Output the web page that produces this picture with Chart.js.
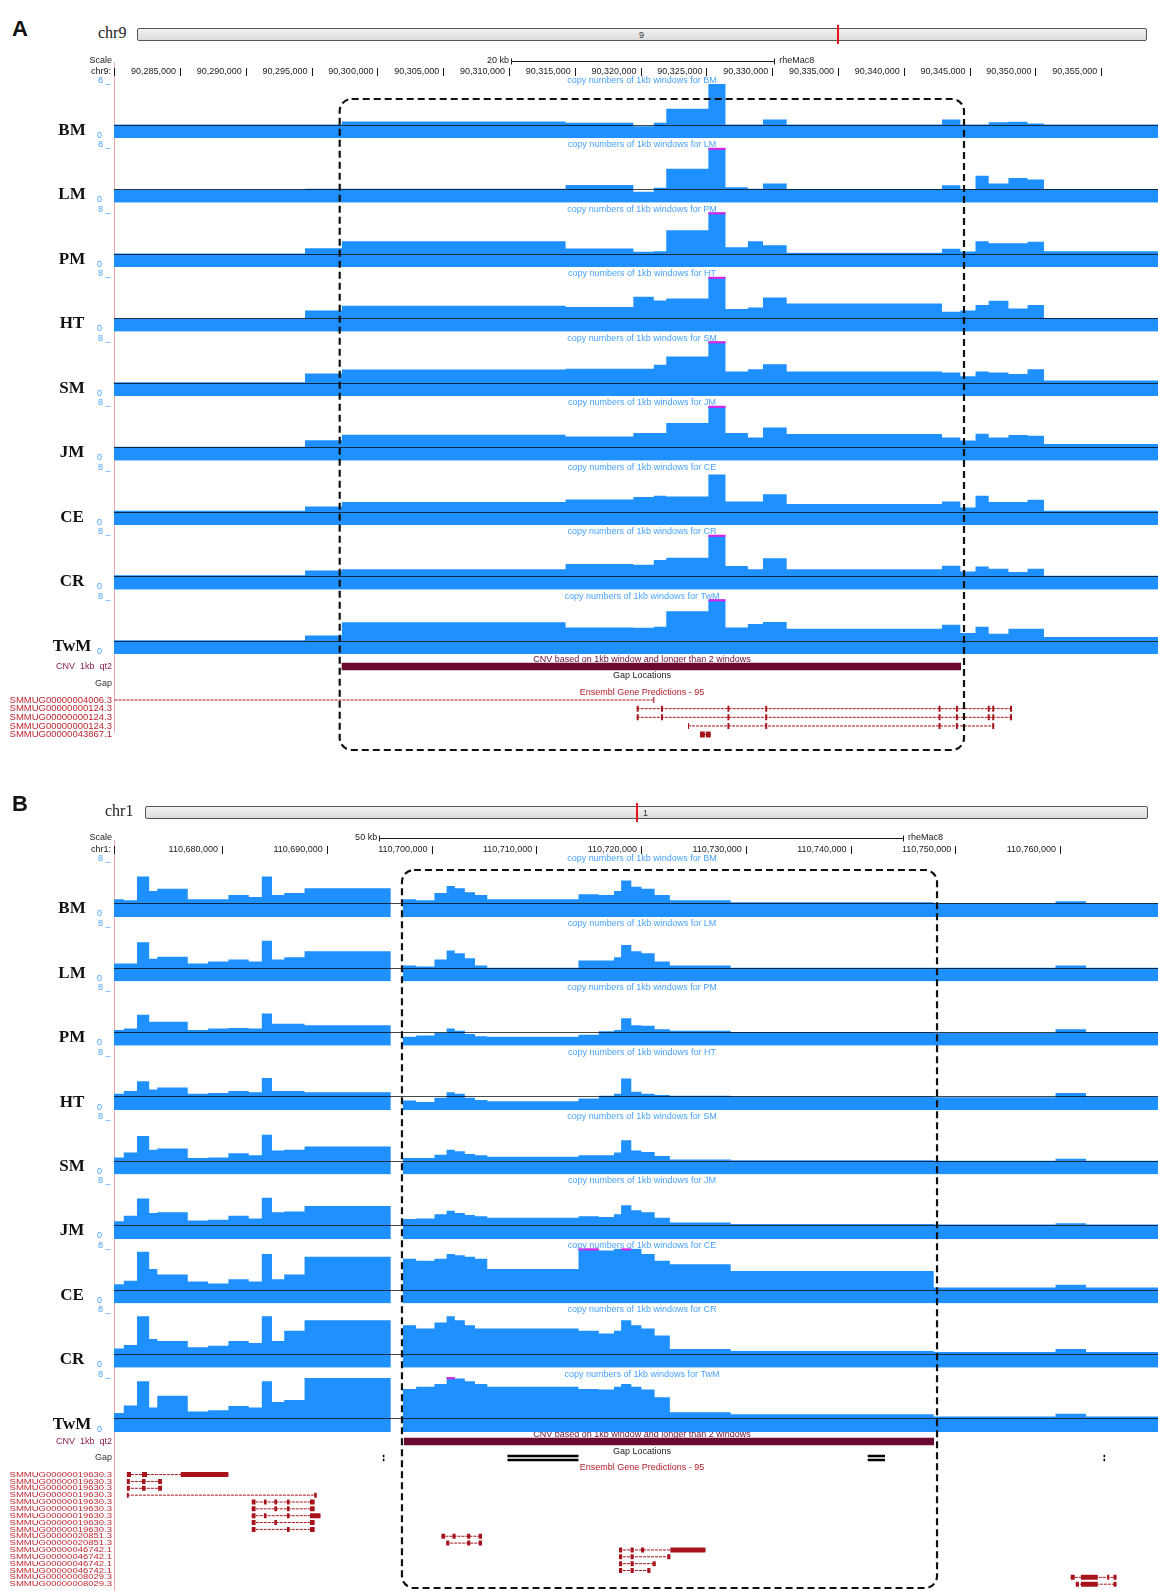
<!DOCTYPE html>
<html>
<head>
<meta charset="utf-8">
<script src="https://cdn.jsdelivr.net/npm/chart.js@4.4.1/dist/chart.umd.min.js"></script>
<style>
  html, body { margin: 0; padding: 0; background: #fff; }
  #page { position: relative; width: 1158px; height: 1591px; overflow: hidden; background: #fff; }
  #page canvas { position: absolute; }
  .txt { position: absolute; white-space: nowrap; line-height: 1; }
  .ideo { position: absolute; box-sizing: border-box; border: 1px solid #555; border-radius: 2px;
          background: linear-gradient(#f2f2f2, #dcdcdc); }
</style>
</head>
<body>
<div id="page"></div>
<script>
// ---------------- data: panel A, chr9 (rheMac8) ----------------
const TRACK_NAMES = ['BM', 'LM', 'PM', 'HT', 'SM', 'JM', 'CE', 'CR', 'TwM'];

const A_WINDOW = [90279985, 90359316];
const A_TICKS = [90285000, 90290000, 90295000, 90300000, 90305000, 90310000, 90315000,
                 90320000, 90325000, 90330000, 90335000, 90340000, 90345000, 90350000, 90355000];
const A_SCALEBAR = [90310150, 90330150];
// start of each copy-number segment (bp)
const A_STARTS = [90279985, 90294500, 90297300, 90314300, 90319450, 90321000, 90321950, 90325150,
                  90326450, 90328150, 90329300, 90331100, 90342900, 90344300, 90345450, 90346450,
                  90347950, 90349400, 90350650];
const A_BM  = [2.0, 2.0, 2.45, 2.25, 1.75, 2.25, 4.3, 7.9, 2.0, 2.0, 2.74, 2.0, 2.74, 2.0, 2.0, 2.35, 2.4, 2.15, 2.0];
const A_LM  = [1.95, 2.05, 2.05, 2.6, 1.6, 2.2, 4.95, 8.6, 2.25, 2.05, 2.8, 2.0, 2.55, 2.0, 3.95, 2.8, 3.6, 3.4, 2.0];
const A_PM  = [2.0, 2.78, 3.8, 2.74, 2.25, 2.35, 5.4, 8.6, 2.9, 3.8, 3.2, 2.1, 2.7, 2.3, 3.8, 3.5, 3.5, 3.7, 2.35];
const A_HT  = [1.95, 3.1, 3.8, 3.6, 5.1, 4.55, 4.85, 8.6, 3.3, 3.55, 5.0, 4.1, 2.9, 3.1, 3.9, 4.5, 3.4, 3.9, 2.0];
const A_SM  = [2.05, 3.3, 3.9, 4.0, 4.0, 4.6, 5.8, 8.6, 3.6, 3.95, 4.65, 3.6, 3.45, 2.9, 3.6, 3.45, 3.25, 3.95, 2.3];
const A_JM  = [2.05, 3.0, 3.8, 3.55, 4.05, 4.05, 5.5, 8.6, 4.05, 3.4, 4.85, 3.9, 3.4, 2.95, 3.95, 3.4, 3.75, 3.65, 2.45];
const A_CE  = [2.1, 2.75, 3.4, 3.75, 4.1, 4.3, 4.2, 7.4, 3.45, 3.45, 4.5, 3.1, 3.45, 2.6, 4.3, 3.4, 3.4, 3.7, 2.1];
const A_CR  = [2.1, 2.8, 3.0, 3.75, 3.65, 4.35, 4.65, 8.6, 3.45, 3.0, 4.6, 3.0, 3.5, 2.65, 3.4, 3.05, 2.6, 3.05, 2.05];
const A_TWM = [2.05, 2.75, 4.65, 3.9, 3.85, 4.0, 6.25, 8.6, 3.9, 4.4, 4.7, 3.7, 4.3, 3.1, 4.0, 3.0, 3.7, 3.7, 2.5];
const A_SERIES = [A_BM, A_LM, A_PM, A_HT, A_SM, A_JM, A_CE, A_CR, A_TWM];

const A_CNV = [90297287, 90344347];
const A_GAPS = [];
const A_GENE_NAMES = ['SMMUG00000004006.3', 'SMMUG00000000124.3', 'SMMUG00000000124.3',
                      'SMMUG00000000124.3', 'SMMUG00000043867.1'];
const A_GENE_SPANS = [[90270000, 90321041], [90319703, 90348222], [90319703, 90348222],
                      [90323602, 90346870], [90324514, 90325327]];
const A_GENE_EXONS = [
  [[90320960, 90321041]],
  [[90319703, 90319853], [90321550, 90321700], [90326600, 90326750], [90329470, 90329620],
   [90342640, 90342790], [90343960, 90344110], [90346380, 90346530], [90346720, 90346870], [90348070, 90348222]],
  [[90319703, 90319853], [90321550, 90321700], [90326600, 90326750], [90329470, 90329620],
   [90342640, 90342790], [90343960, 90344110], [90346380, 90346530], [90346720, 90346870], [90348070, 90348222]],
  [[90323602, 90323680], [90326600, 90326750], [90329470, 90329620], [90342640, 90342790],
   [90343960, 90344110], [90346720, 90346870]],
  [[90324514, 90324880], [90324960, 90325327]]
];

// ---------------- data: panel B, chr1 (rheMac8) ----------------
const B_WINDOW = [110669690, 110769350];
const B_TICKS = [110680000, 110690000, 110700000, 110710000, 110720000, 110730000, 110740000, 110750000, 110760000];
const B_SCALEBAR = [110695000, 110745000];
const B_STARTS = [110669690, 110670625, 110671885, 110673050, 110673820, 110676730, 110678670, 110680610,
                  110682550, 110683800, 110684770, 110685940, 110687880, 110696100, 110697270, 110698530,
                  110700280, 110701440, 110702220, 110703180, 110704150, 110705320, 110714030, 110715970,
                  110717420, 110718100, 110719070, 110720040, 110721300, 110722750, 110728560, 110747940,
                  110759570, 110762480];
const B_BM  = [2.6, 2.45, 5.9, 3.8, 4.1, 2.6, 2.6, 3.2, 2.9, 5.9, 3.2, 3.5, 4.2, 0, 2.6, 2.45, 3.5, 4.5, 4.2, 3.6, 3.2, 2.6, 3.3, 3.2, 3.8, 5.3, 4.4, 4.1, 3.2, 2.45, 2.15, 2.0, 2.3, 2.0];
const B_LM  = [2.6, 2.6, 5.7, 3.3, 3.6, 2.6, 2.9, 3.2, 2.9, 5.9, 3.2, 3.5, 4.4, 0, 2.3, 2.15, 3.2, 4.5, 4.1, 3.35, 2.3, 2.0, 3.05, 3.05, 3.5, 5.3, 4.4, 4.1, 2.9, 2.3, 2.0, 2.0, 2.3, 2.0];
const B_PM  = [2.3, 2.5, 4.5, 3.5, 3.5, 2.3, 2.5, 2.6, 2.5, 4.7, 3.2, 3.2, 3.0, 0, 1.3, 1.5, 1.9, 2.5, 2.2, 1.7, 1.4, 1.3, 1.6, 2.1, 2.3, 4.0, 3.0, 2.9, 2.4, 2.2, 2.0, 1.9, 2.4, 2.0];
const B_HT  = [2.4, 2.8, 4.2, 3.0, 3.3, 2.4, 2.5, 2.8, 2.6, 4.7, 2.8, 2.8, 2.6, 0, 1.4, 1.2, 1.8, 2.6, 2.4, 1.8, 1.5, 1.3, 1.7, 2.1, 2.4, 4.6, 2.7, 2.4, 2.2, 2.1, 2.0, 1.9, 2.5, 2.0];
const B_SM  = [2.5, 3.2, 5.6, 3.6, 3.8, 2.4, 2.5, 3.1, 2.8, 5.8, 3.5, 3.6, 4.1, 0, 2.4, 2.4, 2.9, 3.6, 3.4, 3.0, 2.8, 2.6, 2.8, 2.8, 3.2, 5.0, 3.5, 3.3, 2.7, 2.2, 2.1, 2.0, 2.3, 2.0];
const B_JM  = [2.6, 3.4, 5.9, 3.8, 3.9, 2.7, 2.8, 3.4, 3.0, 6.0, 3.9, 4.0, 4.8, 0, 2.9, 3.0, 3.6, 4.1, 3.8, 3.5, 3.3, 3.1, 3.3, 3.2, 3.6, 4.9, 4.2, 3.9, 3.1, 2.4, 2.2, 2.1, 2.3, 2.1];
const B_CE  = [2.8, 3.3, 7.5, 5.0, 4.2, 3.2, 2.9, 3.5, 3.2, 7.2, 3.5, 4.2, 6.8, 0, 6.5, 6.2, 6.5, 7.2, 7.0, 6.8, 6.5, 5.0, 8.4, 7.7, 8.0, 8.4, 8.0, 7.2, 6.2, 5.7, 4.7, 2.3, 2.7, 2.3];
const B_CR  = [2.8, 3.3, 7.5, 4.2, 3.9, 3.0, 3.2, 3.9, 3.6, 7.5, 3.9, 5.4, 6.9, 0, 6.2, 5.7, 6.6, 7.5, 6.9, 6.2, 5.7, 5.7, 5.4, 5.0, 5.4, 6.9, 6.2, 5.7, 4.7, 2.75, 2.45, 2.3, 2.75, 2.3];
const B_TWM = [2.8, 3.9, 7.4, 3.6, 5.3, 3.0, 3.2, 3.8, 3.6, 7.4, 4.4, 4.7, 7.9, 0, 6.3, 6.6, 7.0, 8.4, 7.8, 7.4, 7.0, 6.6, 6.3, 6.2, 6.6, 7.0, 6.6, 6.2, 5.1, 2.9, 2.6, 2.3, 2.7, 2.3];
const B_SERIES = [B_BM, B_LM, B_PM, B_HT, B_SM, B_JM, B_CE, B_CR, B_TWM];

const B_CNV = [110697370, 110747970];
const B_GAPS = [[110695350, 110695500], [110707250, 110714030], [110741640, 110743290], [110764150, 110764300]];
const B_GENE_NAMES = ['SMMUG00000019630.3', 'SMMUG00000019630.3', 'SMMUG00000019630.3', 'SMMUG00000019630.3',
                      'SMMUG00000019630.3', 'SMMUG00000019630.3', 'SMMUG00000019630.3', 'SMMUG00000019630.3',
                      'SMMUG00000019630.3', 'SMMUG00000020851.3', 'SMMUG00000020851.3', 'SMMUG00000046742.1',
                      'SMMUG00000046742.1', 'SMMUG00000046742.1', 'SMMUG00000046742.1',
                      'SMMUG00000008029.3', 'SMMUG00000008029.3'];
const B_GENE_SPANS = [[110670920, 110680610], [110670920, 110674270], [110670920, 110674270], [110670920, 110689040],
                      [110682840, 110688840], [110682840, 110688840], [110682840, 110689400], [110682840, 110688840],
                      [110682840, 110688840], [110700950, 110704820], [110701400, 110704820], [110717900, 110726150],
                      [110717900, 110722800], [110717900, 110721400], [110717900, 110720900],
                      [110761020, 110765390], [110761500, 110765390]];
const B_GENE_EXONS = [
  [[110670920, 110671310], [110672360, 110672840], [110676060, 110680610]],
  [[110670920, 110671200], [110672360, 110672700], [110673900, 110674270]],
  [[110670920, 110671200], [110672360, 110672700], [110673900, 110674270]],
  [[110670920, 110671100], [110688800, 110689040]],
  [[110682840, 110683200], [110684000, 110684250], [110685000, 110685250], [110686200, 110686450], [110688400, 110688840]],
  [[110682840, 110683200], [110685000, 110685250], [110686200, 110686450], [110688400, 110688840]],
  [[110682840, 110683200], [110684000, 110684250], [110686200, 110686450], [110688400, 110689400]],
  [[110682840, 110683200], [110685000, 110685250], [110688400, 110688840]],
  [[110682840, 110683200], [110686200, 110686450], [110688400, 110688840]],
  [[110700950, 110701300], [110702000, 110702300], [110703400, 110703700], [110704500, 110704820]],
  [[110701400, 110701700], [110703400, 110703700], [110704500, 110704820]],
  [[110717900, 110718200], [110719000, 110719300], [110720000, 110720300], [110722800, 110726150]],
  [[110717900, 110718200], [110719000, 110719300], [110722500, 110722800]],
  [[110717900, 110718200], [110719000, 110719300], [110721100, 110721400]],
  [[110717900, 110718200], [110719000, 110719300], [110720600, 110720900]],
  [[110761020, 110761400], [110762000, 110763600], [110764500, 110764700], [110765100, 110765390]],
  [[110761500, 110761800], [110762000, 110763600], [110765100, 110765390]]
];

// ---------------- drawing ----------------
const BLUE = '#1e90ff';
const MAROON = '#6a0a33';
const GENE_RED = '#a8141c';
const SANS = '"Liberation Sans", Arial, sans-serif';
const SERIF = '"Liberation Serif", "Times New Roman", serif';
const page = document.getElementById('page');
const DATA_LEFT = 114;

function addCanvas(top, height) {
  const c = document.createElement('canvas');
  c.width = 1158; c.height = height;
  c.style.left = '0px'; c.style.top = top + 'px';
  c.style.width = '1158px'; c.style.height = height + 'px';
  page.appendChild(c);
  return c;
}
function addText(text, x, y, css) {
  const d = document.createElement('div');
  d.className = 'txt';
  d.textContent = text;
  d.style.left = x + 'px'; d.style.top = y + 'px';
  Object.assign(d.style, css || {});
  page.appendChild(d);
  return d;
}
function addBox(x, y, w, h, css) {
  const d = document.createElement('div');
  d.style.position = 'absolute';
  d.style.left = x + 'px'; d.style.top = y + 'px';
  d.style.width = w + 'px'; d.style.height = h + 'px';
  Object.assign(d.style, css || {});
  page.appendChild(d);
  return d;
}
const fmt = n => n.toLocaleString('en-US');

// copy-number track: reference line at 2, clipped windows flagged in magenta, labels
const trackDecor = {
  id: 'trackDecor',
  afterDatasetsDraw(chart, args, o) {
    const { ctx, chartArea: a, scales: { x, y } } = chart;
    ctx.save();
    const y2 = Math.round(y.getPixelForValue(2)) + 0.5;
    ctx.strokeStyle = 'rgba(0,0,0,0.72)';
    ctx.lineWidth = 1;
    ctx.beginPath(); ctx.moveTo(a.left, y2); ctx.lineTo(a.right, y2); ctx.stroke();
    const d = chart.data.datasets[0].data;
    ctx.fillStyle = '#e21ee6';
    for (let i = 0; i < d.length - 1; i++) {
      if (d[i].y > y.max) {
        const x0 = x.getPixelForValue(d[i].x), x1 = x.getPixelForValue(d[i + 1].x);
        ctx.fillRect(x0, a.top, x1 - x0, 2);
      }
    }
    ctx.textBaseline = 'middle';
    ctx.fillStyle = '#111';
    ctx.font = 'bold 17px ' + SERIF;
    ctx.textAlign = 'center';
    ctx.fillText(o.name, 72, a.bottom - 8);
    ctx.fillStyle = '#4aa3ff';
    ctx.font = '9px ' + SANS;
    ctx.textAlign = 'left';
    ctx.fillText('8 _', 98, a.top - 3);
    ctx.fillText('0', 97, a.bottom - 3);
    ctx.textAlign = 'center';
    ctx.fillText('copy numbers of 1kb windows for ' + o.name, 642, a.top - 3);
    ctx.restore();
  }
};

function makeTrack(name, starts, values, win, yBottom) {
  const top = Math.round(yBottom - 63);
  const c = addCanvas(top, 65);
  const pts = starts.map((s, i) => ({ x: s, y: values[i] }));
  pts.push({ x: win[1], y: values[values.length - 1] });
  new Chart(c, {
    type: 'line',
    data: { datasets: [{ data: pts, stepped: true, fill: 'origin', backgroundColor: BLUE,
                         borderColor: 'rgba(0,0,0,0)', borderWidth: 1, pointRadius: 0 }] },
    options: {
      responsive: false, animation: false, events: [],
      layout: { padding: { left: DATA_LEFT, right: 0, top: (yBottom - 55) - top, bottom: top + 65 - yBottom } },
      scales: {
        x: { type: 'linear', min: win[0], max: win[1], display: false },
        y: { min: 0, max: 8, display: false }
      },
      plugins: { legend: { display: false }, tooltip: { enabled: false }, trackDecor: { name } }
    },
    plugins: [trackDecor]
  });
}

// ruler row: "Scale" bar and coordinate ticks
const rulerDecor = {
  id: 'rulerDecor',
  afterDraw(chart, args, o) {
    const { ctx, scales: { x } } = chart;
    const off = chart.canvas.offsetTop;
    ctx.save();
    ctx.fillStyle = '#1a1a1a';
    ctx.strokeStyle = '#1a1a1a';
    ctx.lineWidth = 1;
    ctx.font = '9px ' + SANS;
    ctx.textBaseline = 'middle';
    ctx.textAlign = 'right';
    ctx.fillText('Scale', 112, o.barY - off);
    ctx.fillText(o.chrom + ':', 111, o.tickY - off);
    const tickAt = (px) => {
      ctx.beginPath(); ctx.moveTo(Math.round(px) + 0.5, o.tickY - off - 4);
      ctx.lineTo(Math.round(px) + 0.5, o.tickY - off + 4); ctx.stroke();
    };
    tickAt(DATA_LEFT);
    for (const t of o.ticks) {
      const px = x.getPixelForValue(t);
      tickAt(px);
      ctx.fillText(fmt(t), px - 4, o.tickY - off);
    }
    const p0 = x.getPixelForValue(o.bar[0]), p1 = x.getPixelForValue(o.bar[1]);
    const by = Math.round(o.barY - off) + 0.5;
    ctx.beginPath();
    ctx.moveTo(p0, by); ctx.lineTo(p1, by);
    ctx.moveTo(Math.round(p0) + 0.5, by - 3); ctx.lineTo(Math.round(p0) + 0.5, by + 3);
    ctx.moveTo(Math.round(p1) + 0.5, by - 3); ctx.lineTo(Math.round(p1) + 0.5, by + 3);
    ctx.stroke();
    ctx.fillText(o.barLabel, p0 - 2, by - 1);
    ctx.textAlign = 'left';
    ctx.fillText('rheMac8', p1 + 5, by - 1);
    ctx.restore();
  }
};

function makeRuler(win, ticks, bar, barLabel, chrom, top, barY, tickY) {
  const c = addCanvas(top, 28);
  return new Chart(c, {
    type: 'line',
    data: { datasets: [{ data: [] }] },
    options: {
      responsive: false, animation: false, events: [],
      layout: { padding: { left: DATA_LEFT, right: 0, top: 0, bottom: 0 } },
      scales: { x: { type: 'linear', min: win[0], max: win[1], display: false },
                y: { min: 0, max: 1, display: false } },
      plugins: { legend: { display: false }, tooltip: { enabled: false },
                 rulerDecor: { ticks, bar, barLabel, chrom, barY, tickY } }
    },
    plugins: [rulerDecor]
  });
}

// annotation tracks: CNV calls, assembly gaps, gene models
const annotDecor = {
  id: 'annotDecor',
  afterDraw(chart, args, o) {
    const { ctx, scales: { y } } = chart;
    ctx.save();
    ctx.textBaseline = 'middle';
    ctx.font = '9px ' + SANS;
    ctx.textAlign = 'center';
    ctx.fillStyle = MAROON;
    ctx.fillText('CNV based on 1kb window and longer than 2 windows', 642, y.getPixelForValue(o.cnvY - 6.5));
    ctx.fillStyle = '#222';
    ctx.fillText('Gap Locations', 642, y.getPixelForValue(o.gapTitleY));
    ctx.fillStyle = '#b3202a';
    ctx.fillText('Ensembl Gene Predictions - 95', 642, y.getPixelForValue(o.geneTitleY));
    ctx.textAlign = 'right';
    ctx.fillStyle = '#8c1f4f';
    ctx.fillText('CNV  1kb  qt2', 112, y.getPixelForValue(o.cnvY));
    ctx.fillStyle = '#333';
    ctx.fillText('Gap', 112, y.getPixelForValue(o.gapY));
    ctx.fillStyle = '#c0262e';
    ctx.font = '9.5px ' + SANS;
    o.geneNames.forEach((n, i) => {
      ctx.save();
      ctx.translate(112, y.getPixelForValue(o.geneY0 + i * o.geneStep));
      ctx.scale(1, o.geneSquash);
      ctx.fillText(n, 0, 0);
      ctx.restore();
    });
    ctx.restore();
  }
};

function makeAnnotation(win, cnv, gaps, names, spans, exons, top, height, L) {
  const c = addCanvas(top, height);
  const ds = [];
  ds.push({ data: [{ x: cnv[0], y: L.cnvY }, { x: cnv[1], y: L.cnvY }], borderColor: MAROON, borderWidth: 7.5 });
  gaps.forEach(g => {
    ds.push({ data: [{ x: g[0], y: L.gapY - 2 }, { x: g[1], y: L.gapY - 2 }], borderColor: '#000', borderWidth: 2.5 });
    ds.push({ data: [{ x: g[0], y: L.gapY + 2 }, { x: g[1], y: L.gapY + 2 }], borderColor: '#000', borderWidth: 2.5 });
  });
  spans.forEach((s, i) => {
    const ly = L.geneY0 + i * L.geneStep;
    ds.push({ data: [{ x: s[0], y: ly }, { x: s[1], y: ly }], borderColor: GENE_RED, borderWidth: 1, borderDash: [3, 1] });
    const pts = [];
    exons[i].forEach(e => {
      if (pts.length) pts.push({ x: e[0], y: null });
      pts.push({ x: e[0], y: ly }, { x: e[1], y: ly });
    });
    ds.push({ data: pts, borderColor: GENE_RED, borderWidth: L.exonH, spanGaps: false });
  });
  ds.forEach(d => { d.pointRadius = 0; d.borderCapStyle = 'butt'; d.fill = false; });
  return new Chart(c, {
    type: 'line',
    data: { datasets: ds },
    options: {
      responsive: false, animation: false, events: [],
      layout: { padding: { left: DATA_LEFT, right: 0, top: 0, bottom: 0 } },
      scales: { x: { type: 'linear', min: win[0], max: win[1], display: false },
                y: { type: 'linear', min: top, max: top + height, reverse: true, display: false } },
      plugins: { legend: { display: false }, tooltip: { enabled: false },
                 annotDecor: Object.assign({ geneNames: names }, L) }
    },
    plugins: [annotDecor]
  });
}

function roundedDashBox(x0, y0, x1, y1) {
  const ns = 'http://www.w3.org/2000/svg';
  const svg = document.createElementNS(ns, 'svg');
  svg.setAttribute('width', 1158); svg.setAttribute('height', 1591);
  svg.style.position = 'absolute'; svg.style.left = '0'; svg.style.top = '0';
  const r = document.createElementNS(ns, 'rect');
  r.setAttribute('x', x0); r.setAttribute('y', y0);
  r.setAttribute('width', x1 - x0); r.setAttribute('height', y1 - y0);
  r.setAttribute('rx', 12); r.setAttribute('fill', 'none');
  r.setAttribute('stroke', '#111'); r.setAttribute('stroke-width', 2.2);
  r.setAttribute('stroke-dasharray', '7 4');
  svg.appendChild(r);
  page.appendChild(svg);
}

function panel(cfg) {
  // panel letter, chromosome ideogram
  addText(cfg.letter, 12, cfg.letterY, { font: 'bold 22px ' + SANS, color: '#111' });
  addText(cfg.chrom, cfg.chromX, cfg.ideoY - 4, { font: '16px ' + SERIF, color: '#222' });
  addBox(cfg.ideoX0, cfg.ideoY, cfg.ideoX1 - cfg.ideoX0, 13, {}).className = 'ideo';
  addText(cfg.chromNum, cfg.numX, cfg.ideoY + 2, { font: '9px ' + SANS, color: '#333' });
  addBox(cfg.bandX, cfg.ideoY - 3, 2, 19, { background: '#e8141c' });
  // left border of the data area
  addBox(DATA_LEFT, cfg.lineTop, 1, cfg.lineBottom - cfg.lineTop, { background: '#f3aaaa' });

  const ruler = makeRuler(cfg.win, cfg.ticks, cfg.bar, cfg.barLabel, cfg.chromName,
                          cfg.rulerTop, cfg.barY, cfg.tickY);
  TRACK_NAMES.forEach((n, i) => makeTrack(n, cfg.starts, cfg.series[i], cfg.win, cfg.bottom0 + i * cfg.step));
  makeAnnotation(cfg.win, cfg.cnv, cfg.gaps, cfg.geneNames, cfg.geneSpans, cfg.geneExons,
                 cfg.annotTop, cfg.annotHeight, cfg.lanes);
  const x = ruler.scales.x;
  roundedDashBox(x.getPixelForValue(cfg.cnv[0]) - 2, cfg.boxTop, x.getPixelForValue(cfg.cnv[1]) + 3, cfg.boxBottom);
}

panel({
  letter: 'A', letterY: 16, chrom: 'chr9', chromName: 'chr9', chromX: 98, chromNum: '9',
  ideoX0: 137, ideoX1: 1147, ideoY: 28, numX: 639, bandX: 837,
  lineTop: 62, lineBottom: 733,
  win: A_WINDOW, ticks: A_TICKS, bar: A_SCALEBAR, barLabel: '20 kb', rulerTop: 52, barY: 61, tickY: 72,
  starts: A_STARTS, series: A_SERIES, bottom0: 138.3, step: 64.5,
  cnv: A_CNV, gaps: A_GAPS, geneNames: A_GENE_NAMES, geneSpans: A_GENE_SPANS, geneExons: A_GENE_EXONS,
  annotTop: 653, annotHeight: 90,
  lanes: { cnvY: 666.5, gapY: 683.3, gapTitleY: 676, geneTitleY: 692.7, geneY0: 700, geneStep: 8.65,
           geneSquash: 1, exonH: 6 },
  boxTop: 99, boxBottom: 750
});

panel({
  letter: 'B', letterY: 791, chrom: 'chr1', chromName: 'chr1', chromX: 105, chromNum: '1',
  ideoX0: 145, ideoX1: 1148, ideoY: 806, numX: 643, bandX: 636,
  lineTop: 840, lineBottom: 1591,
  win: B_WINDOW, ticks: B_TICKS, bar: B_SCALEBAR, barLabel: '50 kb', rulerTop: 830, barY: 838, tickY: 850,
  starts: B_STARTS, series: B_SERIES, bottom0: 917, step: 64.4,
  cnv: B_CNV, gaps: B_GAPS, geneNames: B_GENE_NAMES, geneSpans: B_GENE_SPANS, geneExons: B_GENE_EXONS,
  annotTop: 1432, annotHeight: 159,
  lanes: { cnvY: 1441.5, gapY: 1458, gapTitleY: 1452, geneTitleY: 1467.5, geneY0: 1474.6, geneStep: 6.85,
           geneSquash: 0.8, exonH: 5 },
  boxTop: 870, boxBottom: 1588
});
</script>
</body>
</html>
